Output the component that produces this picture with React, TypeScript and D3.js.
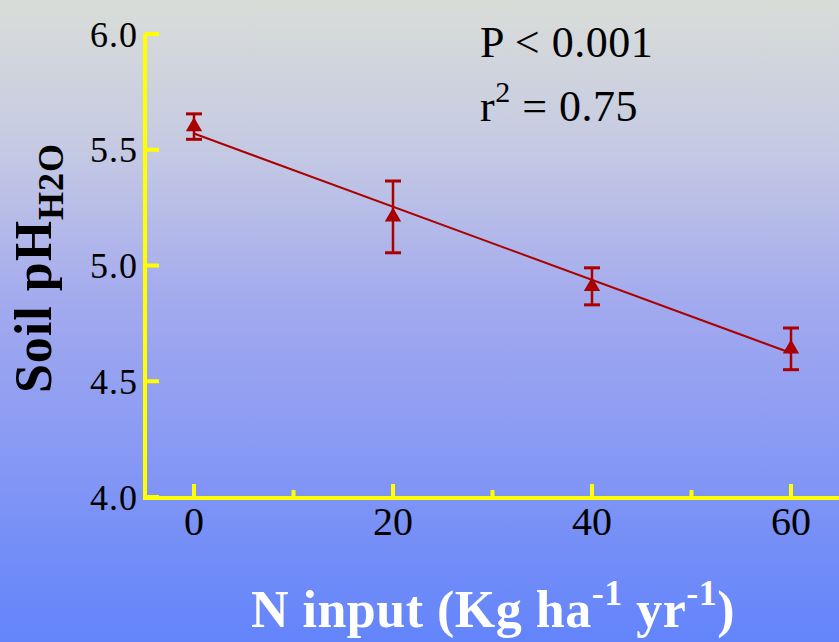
import React from "react";
import * as d3 from "d3";

const nInput = [0, 20, 40, 60];
const phMean = [5.6, 5.21, 4.91, 4.64];
const phErr = [0.055, 0.155, 0.08, 0.09];
const fitIntercept = 5.57;
const fitSlope = -0.0158;
const yTicks = [4.0, 4.5, 5.0, 5.5, 6.0];
const xMajorTicks = [0, 20, 40, 60];
const xMinorTicks = [10, 30, 50];
const statLines = ["P < 0.001", "0.75"];

const W = 839;
const H = 642;
const FONT = "'Liberation Serif', 'Times New Roman', serif";
const RED = "#aa0000";
const YELLOW = "#ffff00";

export default function App() {
  const x = d3.scaleLinear().domain([0, 60]).range([194, 791]);
  const y = d3.scaleLinear().domain([4, 6]).range([497, 34]);
  const axisX = 145;
  const axisY = 498;
  const tri = d3.symbol(d3.symbolTriangle).size(115)() as string;
  const fitLine = d3
    .line<number>()
    .x((d) => x(d))
    .y((d) => y(fitIntercept + fitSlope * d));
  const fitXs = [0, 60];

  return (
    <svg
      width={W}
      height={H}
      style={{ position: "absolute", left: 0, top: 0, display: "block" }}
    >
      <defs>
        <linearGradient id="bg" x1="0" y1="0" x2="0" y2="1">
          <stop offset="0" stopColor="#d9ddd8" />
          <stop offset="0.23" stopColor="#c5cae3" />
          <stop offset="0.47" stopColor="#a3aaee" />
          <stop offset="1" stopColor="#6384fb" />
        </linearGradient>
      </defs>
      <rect x={0} y={0} width={W} height={H} fill="url(#bg)" />

      {/* axes */}
      <line x1={axisX} y1={y(6)} x2={axisX} y2={axisY + 2} stroke={YELLOW} strokeWidth={4} />
      <line x1={axisX - 2} y1={axisY} x2={W} y2={axisY} stroke={YELLOW} strokeWidth={4} />
      {yTicks.map((t) => (
        <g key={"yt" + t}>
          <line x1={axisX} x2={axisX + 14} y1={y(t)} y2={y(t)} stroke={YELLOW} strokeWidth={4} />
          <text
            x={138}
            y={y(t)}
            dy="0.35em"
            textAnchor="end"
            fontFamily={FONT}
            fontSize={36}
            letterSpacing={1}
            fill="#000"
          >
            {t.toFixed(1)}
          </text>
        </g>
      ))}
      {xMajorTicks.map((t) => (
        <g key={"xt" + t}>
          <line x1={x(t)} x2={x(t)} y1={axisY} y2={axisY - 14} stroke={YELLOW} strokeWidth={4} />
          <text
            x={x(t)}
            y={535}
            textAnchor="middle"
            fontFamily={FONT}
            fontSize={40}
            fill="#000"
          >
            {t}
          </text>
        </g>
      ))}
      {xMinorTicks.map((t) => (
        <line key={"xm" + t} x1={x(t)} x2={x(t)} y1={axisY} y2={axisY - 8} stroke={YELLOW} strokeWidth={4} />
      ))}

      {/* regression line */}
      <path d={fitLine(fitXs) as string} fill="none" stroke={RED} strokeWidth={2} />

      {/* error bars and markers */}
      {nInput.map((n, i) => {
        const cx = x(n);
        const top = y(phMean[i] + phErr[i]);
        const bot = y(phMean[i] - phErr[i]);
        return (
          <g key={"pt" + n}>
            <line x1={cx} x2={cx} y1={top} y2={bot} stroke={RED} strokeWidth={2.5} />
            <line x1={cx - 8} x2={cx + 8} y1={top} y2={top} stroke={RED} strokeWidth={3} />
            <line x1={cx - 8} x2={cx + 8} y1={bot} y2={bot} stroke={RED} strokeWidth={3} />
            <path d={tri} transform={`translate(${cx},${y(phMean[i])})`} fill={RED} />
          </g>
        );
      })}

      {/* stats */}
      <text x={480} y={57} fontFamily={FONT} fontSize={44} letterSpacing={0.5} fill="#000">
        {statLines[0]}
      </text>
      <text x={480} y={121} fontFamily={FONT} fontSize={44} letterSpacing={0.5} fill="#000">
        r<tspan dy={-19} fontSize={30}>2</tspan>
        <tspan dy={19}>{" = " + statLines[1]}</tspan>
      </text>

      {/* y title */}
      <text
        transform="translate(51,268) rotate(-90)"
        textAnchor="middle"
        fontFamily={FONT}
        fontWeight="bold"
        fontSize={52}
        letterSpacing={1}
        fill="#000"
      >
        Soil pH
        <tspan dy={12} fontSize={36}>H2O</tspan>
      </text>

      {/* x title */}
      <text
        x={493}
        y={627}
        textAnchor="middle"
        fontFamily={FONT}
        fontWeight="bold"
        fontSize={52}
        letterSpacing={0.5}
        fill="#fff"
      >
        N input (Kg ha
        <tspan dy={-22} fontSize={36}>-1</tspan>
        <tspan dy={22}> yr</tspan>
        <tspan dy={-22} fontSize={36}>-1</tspan>
        <tspan dy={22}>)</tspan>
      </text>
    </svg>
  );
}
